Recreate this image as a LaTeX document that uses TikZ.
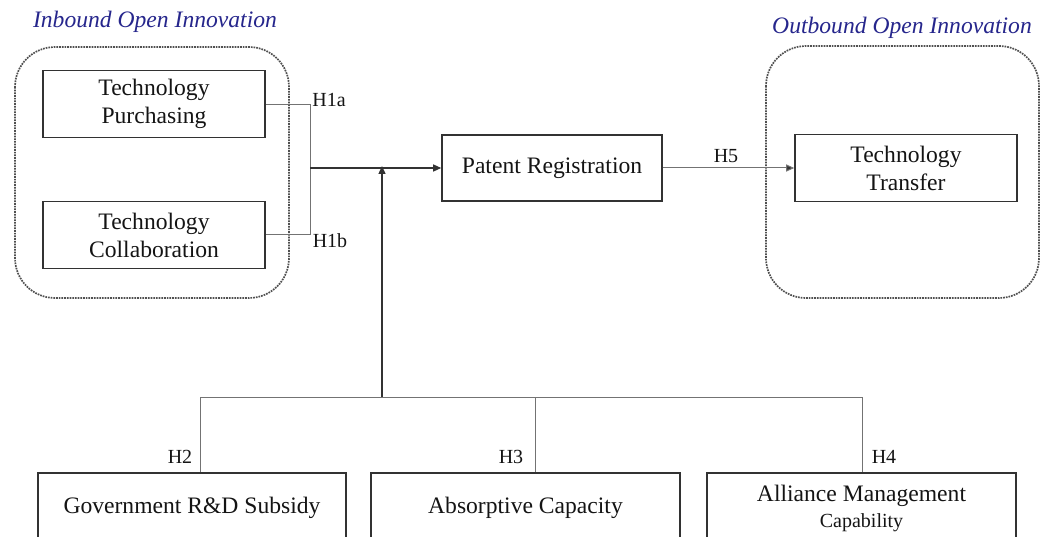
\documentclass[tikz,border=0pt]{standalone}
\usepackage{fontspec}
\setmainfont{Liberation Serif}
\usetikzlibrary{arrows.meta}
\definecolor{titleblue}{RGB}{38,38,140}
\definecolor{boxline}{RGB}{50,50,50}
\definecolor{thinline}{RGB}{115,115,115}
\definecolor{dotline}{RGB}{80,80,80}
\begin{document}
\begin{tikzpicture}[x=1pt,y=-1pt,
  every node/.style={inner sep=0pt,text=black!92},
  mainfont/.style={font=\fontsize{23.6}{28}\selectfont},
  varbox/.style={draw=boxline,line width=1.6pt,mainfont,align=center,minimum width=222pt,minimum height=67pt},
  bigbox/.style={draw=boxline,line width=1.6pt,mainfont,align=center,minimum width=308pt,minimum height=70pt},
  groupbox/.style={draw=dotline,densely dotted,line width=1.7pt,rounded corners=40pt},
  grouptitle/.style={text=titleblue,font=\fontsize{23.6}{28}\selectfont\itshape},
  hlabel/.style={font=\fontsize{20}{24}\selectfont},
  thin/.style={draw=thinline,line width=1pt},
  mainarrow/.style={draw=boxline,line width=1.4pt,-{Triangle[length=8pt,width=7pt]}},
  thinarrow/.style={draw=thinline,line width=1pt,-{Triangle[length=8pt,width=7pt,fill=boxline]}}
]
\useasboundingbox (0,0) rectangle (1047,537);
% groups
\draw[groupbox] (15,47) rectangle (289,298);
\draw[groupbox] (766,46) rectangle (1039,298);
\node[grouptitle] (tin) at (155,22) {Inbound Open Innovation};
\node[grouptitle] (tout) at (902,28) {Outbound Open Innovation};
% boxes
\node[varbox] (tp) at (154,104) {Technology\\Purchasing};
\node[varbox] (tc) at (154,235) {Technology\\Collaboration};
\node[varbox,minimum width=220pt,minimum height=66pt] (pr) at (552,168) {Patent Registration};
\node[varbox] (tt) at (906,168) {Technology\\Transfer};
\node[bigbox] (gov) at (192,508) {Government R\&D Subsidy};
\node[bigbox,minimum width=309pt] (abs) at (525.5,508) {Absorptive Capacity};
\node[bigbox,minimum width=309pt,align=center] (ali) at (861.5,508) {Alliance Management\\[-2pt]{\fontsize{20}{24}\selectfont Capability}};
% coordinates
\coordinate (j) at (310,168);
\coordinate (m) at (382,168);
\coordinate (b) at (382,397);
\coordinate (bl) at (200,397);
\coordinate (bm) at (535,397);
\coordinate (br) at (862,397);
% H1 connectors
\draw[thin] (tp.east |- 0,105) -- (310,105) -- (310,235) -- (tc.east);
\draw[mainarrow] (j) -- (pr.west);
\draw[mainarrow] (b) -- ([yshift=2pt]m);
\node[hlabel] (h1a) at (329,100) {H1a};
\node[hlabel] (h1b) at (330,241) {H1b};
% H5
\draw[thinarrow] (pr.east) -- (tt.west);
\node[hlabel] (h5) at (726,156) {H5};
% moderators
\draw[thin] (bl) -- (br);
\draw[thin] (bl) -- (bl |- gov.north);
\draw[thin] (bm) -- (bm |- abs.north);
\draw[thin] (br) -- (br |- ali.north);
\node[hlabel] (h2) at (180,457) {H2};
\node[hlabel] (h3) at (511,457) {H3};
\node[hlabel] (h4) at (884,457) {H4};
\end{tikzpicture}
\end{document}
